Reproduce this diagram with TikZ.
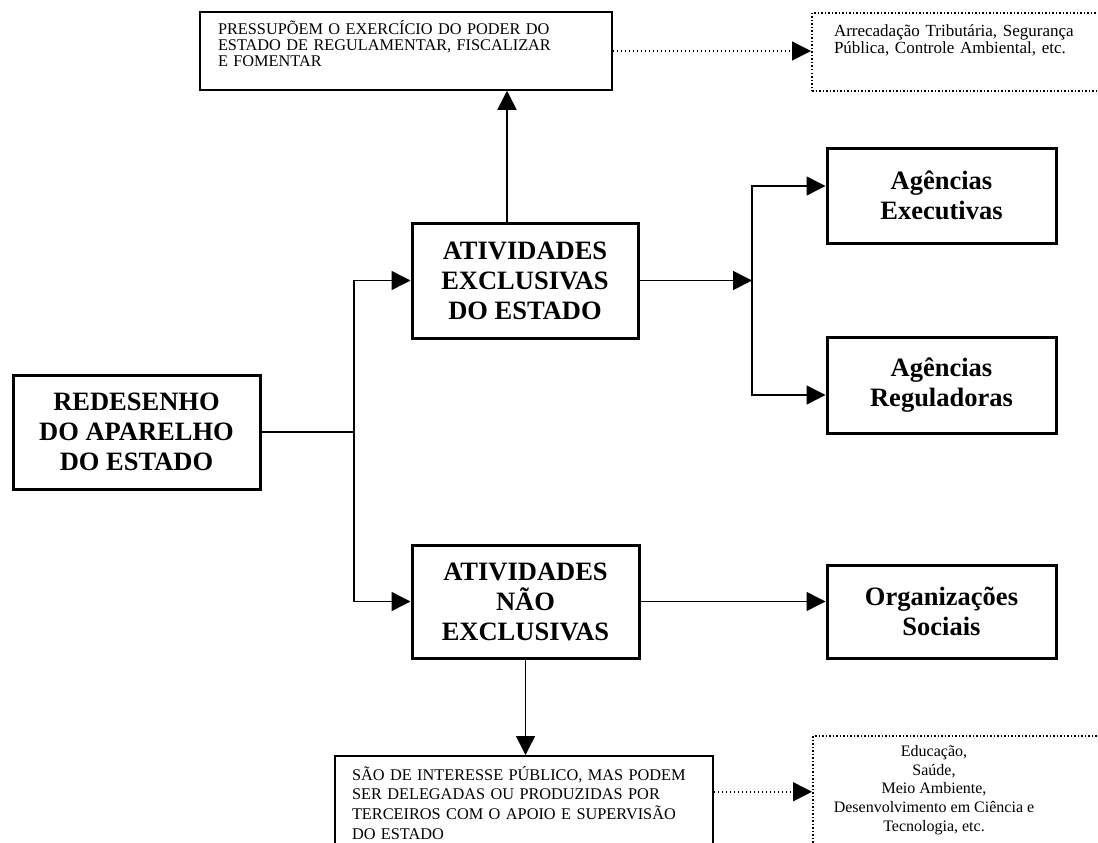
\documentclass[tikz,border=0pt]{standalone}
\usepackage{fontspec}
\setmainfont{Liberation Serif}
\usetikzlibrary{arrows.meta}

\tikzset{
  caixa/.style={draw, line width=3pt, align=center, inner sep=0pt,
    font=\fontsize{26.5}{30}\selectfont\bfseries},
  nota/.style={draw, line width=1.5pt, align=left, inner ysep=0pt,
    font=\fontsize{16.3}{16}\selectfont},
  exemplo/.style={draw, line width=2pt, dash pattern=on 1.5pt off 2pt,
    inner ysep=0pt, font=\fontsize{16.3}{18.7}\selectfont},
  seta/.style={line width=1.5pt, -{Triangle[length=19pt,width=19pt]}},
  pontilhada/.style={seta, dash pattern=on 1.5pt off 2.5pt},
}

\begin{document}
\begin{tikzpicture}[x=1pt, y=-1pt]
  \useasboundingbox (0,0) rectangle (1098,843);

  % caixas principais
  \node[caixa, minimum width=247pt, minimum height=114pt] (redesenho) at (136.5,432)
    {REDESENHO\\DO APARELHO\\DO ESTADO};
  \node[caixa, minimum width=226pt, minimum height=115pt] (exclusivas) at (525,280.5)
    {ATIVIDADES\\EXCLUSIVAS\\DO ESTADO};
  \node[caixa, minimum width=227pt, minimum height=113pt] (naoexcl) at (525.5,601.5)
    {ATIVIDADES\\NÃO\\EXCLUSIVAS};
  \node[caixa, minimum width=229pt, minimum height=95pt] (executivas) at (941.5,195.5)
    {Agências\\Executivas};
  \node[caixa, minimum width=229pt, minimum height=96pt] (reguladoras) at (941.5,385)
    {Agências\\Reguladoras};
  \node[caixa, minimum width=229pt, minimum height=93pt] (sociais) at (941.5,611.5)
    {Organizações\\Sociais};

  % notas
  \node[nota, minimum width=412pt, minimum height=78pt, text width=376pt, inner xsep=18pt]
    (pressupoem) at (406,51)
    {PRESSUPÕEM O EXERCÍCIO DO PODER DO\\ESTADO DE REGULAMENTAR, FISCALIZAR\\E FOMENTAR\vspace{14pt}};
  \node[nota, anchor=north, minimum width=378pt, minimum height=94pt, text width=344pt,
    inner xsep=17pt, font=\fontsize{16.3}{19.7}\selectfont] (interesse) at (524,755)
    {SÃO DE INTERESSE PÚBLICO, MAS PODEM\\SER DELEGADAS OU PRODUZIDAS POR\\%
     TERCEIROS COM O APOIO E SUPERVISÃO\\DO ESTADO};
  \node[exemplo, anchor=north west, minimum height=78pt, text width=260pt,
    inner xsep=22pt, align=left, font=\fontsize{17}{17.5}\selectfont] (tributos) at (811,12)
    {Arrecadação Tributária, Segurança\\Pública, Controle Ambiental, etc.\vspace{23pt}};
  \node[exemplo, anchor=north west, minimum height=114pt, inner xsep=0pt,
    font=\fontsize{16}{18.7}\selectfont] (areas) at (812,735)
    {\parbox{242pt}{\centering Educação,\\Saúde,\\Meio Ambiente,\\Desenvolvimento em Ciência e\\%
     Tecnologia, etc.\vspace{6pt}}\rule{58pt}{0pt}};

  % ramificacoes
  \coordinate (ramo) at (354,432);
  \coordinate (juncao) at (752,280.5);

  % setas
  \draw[line width=1.5pt] (redesenho.east) -- (ramo);
  \draw[seta] (ramo) |- (exclusivas.west);
  \draw[seta] (ramo) |- (naoexcl.west);
  \draw[seta] ([xshift=-18pt]exclusivas.north) -- ([xshift=-18pt]exclusivas.north |- pressupoem.south);
  \draw[seta] (exclusivas.east) -- (juncao);
  \draw[seta] (juncao) |- ([yshift=9.5pt]executivas.west);
  \draw[seta] (juncao) |- ([yshift=-10pt]reguladoras.west);
  \draw[seta] (naoexcl.east) -- (naoexcl.east -| sociais.west);
  \draw[seta] (naoexcl.south) -- (naoexcl.south |- interesse.north);
  \draw[pontilhada] (pressupoem.east) -- (pressupoem.east -| tributos.west);
  \draw[pontilhada] ([yshift=11pt]interesse.east) -- ([yshift=11pt]interesse.east -| areas.west);
\end{tikzpicture}
\end{document}
